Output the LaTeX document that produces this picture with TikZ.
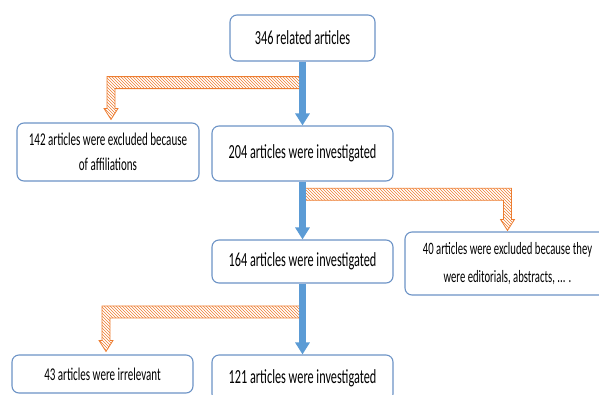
\documentclass[tikz,border=0pt]{standalone}
\usepackage{fontspec}
\setmainfont{Carlito}[FakeStretch=0.613]
\usetikzlibrary{calc,patterns,arrows.meta}
\definecolor{boxblue}{HTML}{6C93C6}
\definecolor{arrowblue}{HTML}{5B9BD5}
\definecolor{hatchorange}{HTML}{ED7D31}
% L-shaped hatched arrow: (bend on the main line)(tip)(direction -1 left, 1 right)
\def\hatcharrow(#1)(#2)(#3){\draw[hatchline] let \p1=(#1), \p2=(#2) in
	({\x1},{\y1+6pt}) -- ({\x2+(#3)*4pt},{\y1+6pt}) -- ({\x2+(#3)*4pt},{\y2+11pt})
	-- ({\x2+(#3)*7pt},{\y2+11pt}) -- (\x2,\y2) -- ({\x2-(#3)*7pt},{\y2+11pt})
	-- ({\x2-(#3)*4pt},{\y2+11pt}) -- ({\x2-(#3)*4pt},{\y1-6pt}) -- ({\x1},{\y1-6pt}) -- cycle;}

\begin{document}
\begin{tikzpicture}[x=1pt, y=-1pt,
	box/.style={draw=boxblue, line width=1.1pt, rounded corners=7pt, fill=white,
		align=center, inner sep=2pt, font=\fontsize{20}{24}\selectfont},
	sidebox/.style={box, font=\fontsize{18}{25}\selectfont},
	mainline/.style={line width=7pt, color=arrowblue, -{Triangle[width=14pt,length=12pt]}},
	hatchline/.style={draw=hatchorange, line width=0.8pt, pattern=north west lines,
		pattern color=hatchorange}]
		%%%%% START %%%%%
		
		\useasboundingbox (0,0) rectangle (599,394);
		\clip (0,0) rectangle (599,394);
		
		\node[box, minimum width=145pt, minimum height=46pt] (related) at (302.5,38) {346 related articles};
		\node[box, minimum width=181pt, minimum height=55pt] (investA) at (302.5,153.5) {204 articles were investigated};
		\node[sidebox, minimum width=182pt, minimum height=58pt] (excludedA) at (108,152) {142 articles were excluded because\\of affiliations};
		\node[box, minimum width=181pt, minimum height=43pt] (investB) at (302.5,261.5) {164 articles were investigated};
		\node[sidebox, font=\fontsize{17.4}{28}\selectfont, minimum width=205pt, minimum height=63pt] (excludedB) at (507.5,263.5) {40 articles were excluded because they\\were editorials, abstracts, ... .};
		\node[sidebox, minimum width=181pt, minimum height=38pt] (irrelevant) at (102.5,374) {43 articles were irrelevant};
		\node[box, minimum width=181pt, minimum height=46pt] (investC) at (302.5,378) {121 articles were investigated};
		
		\coordinate (bend1) at ($(related.south)!0.33!(investA.north)$);
		\coordinate (tip1) at ($(excludedA.north)+(3,-3)$);
		\coordinate (bend2) at ($(investA.south)!0.22!(investB.north)$);
		\coordinate (tip2) at ($(excludedB.north)+(0,-1)$);
		\coordinate (bend3) at ($(investB.south)!0.4!(investC.north)$);
		\coordinate (tip3) at ($(irrelevant.north)+(3.5,-3)$);
		
		\hatcharrow(bend1)(tip1)(-1)
		\hatcharrow(bend2)(tip2)(1)
		\hatcharrow(bend3)(tip3)(-1)
		
		\draw[mainline] (related.south) -- (investA.north);
		\draw[mainline] (investA.south) -- (investB.north);
		\draw[mainline] (investB.south) -- (investC.north);
		
		%%%%% END %%%%%
	\end{tikzpicture}
\end{document}
